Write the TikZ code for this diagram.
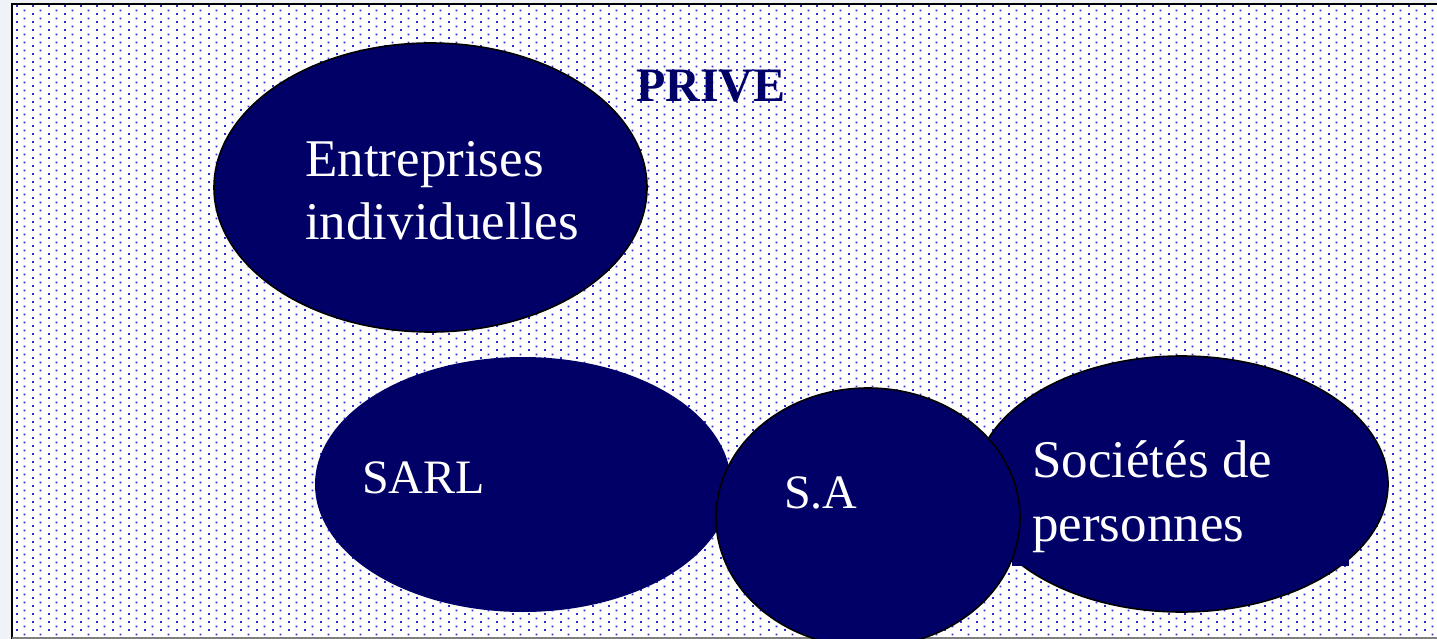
\documentclass[tikz,border=0pt]{standalone}
\usepackage{fontspec}
\setmainfont{Liberation Serif}
\usetikzlibrary{shapes.geometric,patterns}

% fine staggered halftone used as the panel background
\pgfdeclarepatternformonly{halftone}{\pgfpointorigin}{\pgfpoint{16pt}{8pt}}{\pgfpoint{16pt}{8pt}}{%
  \pgfpathrectangle{\pgfpoint{0pt}{0pt}}{\pgfpoint{2pt}{2pt}}%
  \pgfpathrectangle{\pgfpoint{8pt}{4pt}}{\pgfpoint{2pt}{2pt}}%
  \pgfusepath{fill}}

\definecolor{navy}{RGB}{0,0,102}
\definecolor{dotblue}{RGB}{45,45,210}
\definecolor{pagegrey}{RGB}{239,243,248}

\begin{document}
\begin{tikzpicture}[x=1pt,y=-1pt,
  blob/.style={ellipse, fill=navy, inner sep=0pt, outer sep=0pt},
  rim/.style={draw=black, line width=1.6pt},
  biglabel/.style={text=white, inner sep=0pt, align=left,
    font=\fontsize{53}{63}\selectfont},
  smalllabel/.style={text=white, inner sep=0pt,
    font=\fontsize{48}{58}\selectfont},
  titletext/.style={inner sep=0pt, text=navy, font=\fontsize{48}{58}\selectfont\bfseries}]
\useasboundingbox (0,0) rectangle (1437,639);

% page and dotted panel
\fill[pagegrey] (0,0) rectangle (1437,639);
\fill[white] (12,4) rectangle (1437,639);
\fill[pattern=halftone, pattern color=dotblue] (13,5) rectangle (1437,637.5);
\draw[black, line width=2pt] (12,639) -- (12,4.5) -- (1437,4.5);
\draw[gray, line width=1.5pt] (12,638.2) -- (1437,638.2);

% ellipses
\node[blob, rim, minimum width=433pt, minimum height=289pt] (ent) at (430.5,187.5) {};
\node[blob, minimum width=416pt, minimum height=255pt] (sarl) at (523,484.5) {};
\node[blob, rim, minimum width=413pt, minimum height=256pt] (soc) at (1181.5,484) {};
\node[fill=navy, inner sep=0pt, outer sep=0pt, minimum width=337pt,
  minimum height=145pt, anchor=south west] (socbox) at (1012,565.5) {};
\node[blob, rim, minimum width=304pt, minimum height=259pt] (sa) at (868,517.5) {};

% labels
\node[titletext, anchor=base west] (prive) at (636,102) {PRIVE};
\node[biglabel, anchor=base west] (ent-text) at (305,240) {Entreprises\\individuelles};
\node[smalllabel, anchor=base west] (sarl-text) at (362,493) {SARL};
\node[smalllabel, anchor=base west] (sa-text) at (784,508) {S.A};
\node[biglabel, anchor=base west, font=\fontsize{53}{64.5}\selectfont] (soc-text) at (1032,541.5) {Sociétés de\\personnes};
\end{tikzpicture}
\end{document}
